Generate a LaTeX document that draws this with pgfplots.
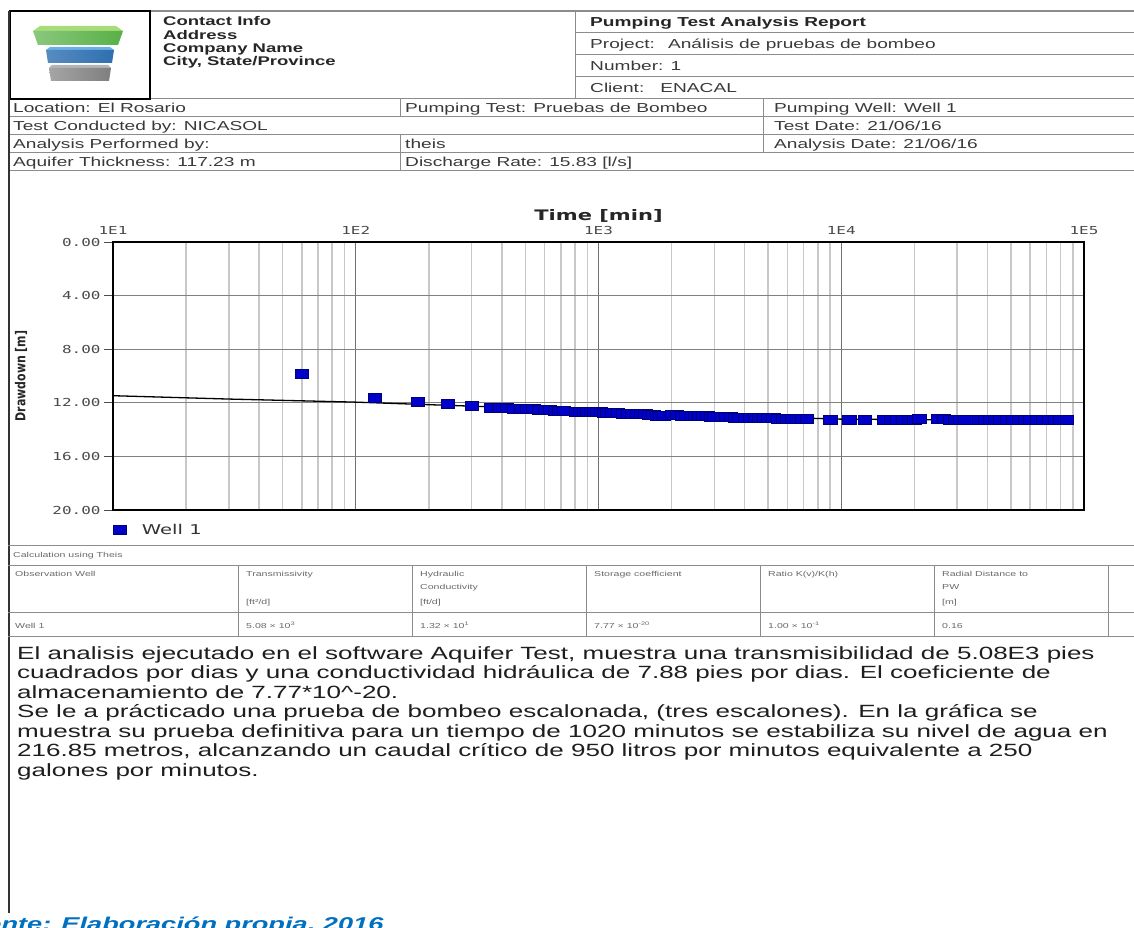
\documentclass[border=0pt]{standalone}
\usepackage{pgfplots}
\usepackage{pgfplotstable}
\pgfplotsset{compat=1.18}
\usepackage{fontspec}
\setmainfont{Liberation Sans}[FakeStretch=1.47]
\newfontfamily\dvmono{DejaVu Sans Mono}[FakeStretch=1.45]
\newfontfamily\dvsans{DejaVu Sans}[FakeStretch=1.45]
\newfontfamily\dvrot{DejaVu Sans}[FakeStretch=0.8]
\newcommand\fs[1]{\fontsize{#1}{#1}\selectfont}
\definecolor{hdrtxt}{HTML}{3A3A3A}
\definecolor{hdrline}{HTML}{8C8C8C}
\definecolor{mblue}{HTML}{0000C8}
\definecolor{mdark}{HTML}{00007A}
\definecolor{capblue}{HTML}{0070C0}
\definecolor{mingrid}{HTML}{C8C8C8}
\definecolor{majgrid}{HTML}{707070}
\definecolor{ygrid}{HTML}{808080}
\definecolor{ticktxt}{HTML}{4A4A4A}
\definecolor{tabtxt}{HTML}{6A6A6A}
\definecolor{ptext}{HTML}{1E1E1E}
\definecolor{gtop}{HTML}{A8DC78}
\definecolor{gfront}{HTML}{58B046}
\definecolor{btop}{HTML}{6BB0E4}
\definecolor{bfront}{HTML}{2E6FB0}
\definecolor{ytop}{HTML}{B4B4B4}
\definecolor{yfront}{HTML}{7F7F7F}

\pgfplotstableread{
t s
60 9.80
120 11.65
180 11.95
240 12.10
300 12.25
360 12.38
390 12.36
420 12.40
450 12.42
480 12.44
510 12.46
540 12.48
570 12.50
600 12.52
630 12.55
660 12.57
690 12.59
720 12.62
810 12.64
840 12.65
870 12.66
900 12.66
930 12.67
960 12.68
990 12.69
1020 12.70
1050 12.71
1080 12.73
1140 12.77
1200 12.78
1260 12.79
1320 12.80
1380 12.82
1440 12.83
1500 12.83
1560 12.84
1620 12.86
1680 12.88
1740 12.94
1800 12.95
1860 12.96
2000 12.92
2100 12.93
2200 12.94
2300 12.95
2400 12.96
2500 12.97
2600 12.98
2700 12.99
2800 13.00
2900 13.02
3000 13.03
3200 13.07
3350 13.08
3500 13.08
3650 13.09
3800 13.10
4000 13.12
4200 13.13
4400 13.13
4600 13.14
4800 13.14
5000 13.15
5250 13.15
5500 13.16
5750 13.16
6000 13.17
6300 13.17
6600 13.18
6900 13.18
7200 13.18
9000 13.28
10800 13.28
12500 13.28
15000 13.28
16000 13.28
17000 13.27
18000 13.27
19000 13.26
20000 13.24
21000 13.22
25000 13.22
26500 13.23
28000 13.24
29500 13.25
31000 13.26
32500 13.27
37000 13.28
39000 13.29
41000 13.29
43000 13.30
45000 13.30
48000 13.29
51000 13.29
54000 13.28
57000 13.28
60000 13.28
64000 13.28
68000 13.28
72000 13.27
76000 13.27
80000 13.27
85000 13.27
}\welldata

\pgfplotstableread{
t s
10 11.47
30 11.72
100 11.95
300 12.25
1000 12.60
3000 12.95
10000 13.22
30000 13.27
90000 13.28
}\theisdata

\begin{document}
\begin{tikzpicture}[x=1pt,y=1pt]
\useasboundingbox (0,0) rectangle (1134,-928);
\clip (0,0) rectangle (1134,-928);
\fill[white] (0,0) rectangle (1134,-928);

% ---------- header lines ----------
\draw[hdrline, line width=1.2pt] (150,-11) -- (1134,-11);
\draw[hdrline, line width=1pt] (575,-11) -- (575,-99);
\foreach \yy in {33,55,77}{\draw[hdrline, line width=1pt] (575,-\yy) -- (1134,-\yy);}
\foreach \yy in {99,117,135,153,171}{\draw[hdrline, line width=1pt] (8,-\yy) -- (1134,-\yy);}
\draw[hdrline, line width=1pt] (400,-99) -- (400,-117);
\draw[hdrline, line width=1pt] (400,-135) -- (400,-171);
\draw[hdrline, line width=1pt] (763,-99) -- (763,-153);

% logo box
\draw[black, line width=2pt] (10,-11) rectangle (150,-99);
\fill[gtop] (40,-26) -- (116,-26) -- (123,-31) -- (33,-31) -- cycle;
\shade[left color=gfront!70!white, right color=gfront] (33,-31) -- (123,-31) -- (118,-45) -- (38,-45) -- cycle;
\fill[btop] (50,-47) -- (110,-47) -- (114,-50) -- (46,-50) -- cycle;
\shade[left color=bfront!80!white, right color=bfront] (46,-50) -- (114,-50) -- (112,-63) -- (48,-63) -- cycle;
\fill[ytop] (52,-65) -- (108,-65) -- (111,-68) -- (49,-68) -- cycle;
\shade[left color=yfront!70!white, right color=yfront] (49,-68) -- (111,-68) -- (109,-81) -- (51,-81) -- cycle;

% left thick border
\draw[black!80, line width=2.5pt] (9,-11) -- (9,-913);

% header texts
\begin{scope}[every node/.style={anchor=base west, inner sep=0pt, text=hdrtxt, font=\fs{13}}]
\node[font=\bfseries\fs{12.6}, text=black!85] at (163,-26) {Contact Info};
\node[font=\bfseries\fs{12.6}, text=black!85] at (163,-39.2) {Address};
\node[font=\bfseries\fs{12.6}, text=black!85] at (163,-52.4) {Company Name};
\node[font=\bfseries\fs{12.6}, text=black!85] at (163,-65.6) {City, State/Province};
\node[font=\bfseries\fs{13}, text=black!85] at (590,-27) {Pumping Test Analysis Report};
\node at (590,-49) {Project:\hspace{6pt} Análisis de pruebas de bombeo};
\node at (590,-71) {Number: 1};
\node at (590,-93) {Client:\hspace{9pt} ENACAL};
\node at (13,-112.6) {Location: El Rosario};
\node at (405,-112.6) {Pumping Test: Pruebas de Bombeo};
\node at (774,-112.6) {Pumping Well: Well 1};
\node at (13,-130.6) {Test Conducted by: NICASOL};
\node at (774,-130.6) {Test Date: 21/06/16};
\node at (13,-148.6) {Analysis Performed by:};
\node at (405,-148.6) {theis};
\node at (774,-148.6) {Analysis Date: 21/06/16};
\node at (13,-166.6) {Aquifer Thickness: 117.23 m};
\node at (405,-166.6) {Discharge Rate: 15.83 [l/s]};
\end{scope}

% ---------- chart ----------
\begin{axis}[
  at={(113pt,-242pt)}, anchor=north west,
  width=971pt, height=268pt, scale only axis,
  xmode=log, xmin=10, xmax=100000,
  ymin=0, ymax=20, y dir=reverse,
  axis line style={line width=1.3pt, black},
  xtick={10,100,1000,10000,100000},
  xticklabels={1E1,1E2,1E3,1E4,1E5},
  minor xtick={20,30,40,50,60,70,80,90,200,300,400,500,600,700,800,900,2000,3000,4000,5000,6000,7000,8000,9000,20000,30000,40000,50000,60000,70000,80000,90000},
  xticklabel pos=upper,
  ytick={0,4,8,12,16,20},
  yticklabels={0.00,4.00,8.00,12.00,16.00,20.00},
  ytick pos=left, ytick align=outside, xtick align=inside,
  major tick length=9pt, minor tick length=0pt,
  xtick style={majgrid, line width=1.3pt},
  ytick style={black!70, line width=1pt},
  xmajorgrids, xminorgrids, ymajorgrids,
  major x grid style={majgrid, line width=1.3pt},
  minor x grid style={mingrid, line width=1.6pt},
  major y grid style={ygrid, line width=1pt},
  ticklabel style={font=\dvmono\fs{11}, text=ticktxt},
  xticklabel style={yshift=4pt},
  title={Time [min]},
  title style={at={(axis description cs:0.5,1)}, anchor=base, yshift=16pt, inner sep=0pt, font=\dvsans\bfseries\fs{14.5}, text=black!85},
  ylabel={Drawdown [m]},
  every axis y label/.style={at={(axis description cs:-0.0947,0.5)}, rotate=90, anchor=center, font=\dvrot\bfseries\fs{13.7}, text=black!85},
  legend style={at={(axis description cs:0,0)}, anchor=north west, draw=none, fill=none, font=\dvsans\fs{13.5}, text=black!80, xshift=-3pt, yshift=-10pt},
  legend cell align=left,
  legend image code/.code={\draw[#1] plot coordinates {(6pt,0pt)}; \path[draw=none] (0pt,0pt) -- (26pt,0pt);},
]
\addplot[black, line width=1.3pt, forget plot] table[x=t,y=s] {\theisdata};
\addplot[only marks, mark=square*, mark size=4.5pt, mark options={xscale=1.5, fill=mblue, draw=mdark, line width=0.6pt}] table[x=t,y=s] {\welldata};
\addlegendentry{Well 1}
\end{axis}

% ---------- results table ----------
\draw[hdrline, line width=1pt] (8,-545) -- (1134,-545);
\draw[hdrline, line width=1pt] (8,-565) -- (1134,-565);
\draw[hdrline, line width=1pt] (8,-612) -- (1134,-612);
\draw[hdrline, line width=1pt] (8,-636) -- (1134,-636);
\foreach \xx in {238,412,586,760,934,1108}{\draw[hdrline, line width=1pt] (\xx,-565) -- (\xx,-636);}
\begin{scope}[every node/.style={anchor=base west, inner sep=0pt, text=tabtxt, font=\fs{7.2}}]
\node at (13,-557.7) {Calculation using Theis};
\node at (15,-576.7) {Observation Well};
\node at (246,-576.7) {Transmissivity};
\node at (246,-604.7) {[ft²/d]};
\node at (420,-576.7) {Hydraulic};
\node at (420,-589.7) {Conductivity};
\node at (420,-604.7) {[ft/d]};
\node at (594,-576.7) {Storage coefficient};
\node at (768,-576.7) {Ratio K(v)/K(h)};
\node at (942,-576.7) {Radial Distance to};
\node at (942,-589.7) {PW};
\node at (942,-604.7) {[m]};
\node at (15,-628.7) {Well 1};
\node at (246,-628.7) {5.08 × 10\textsuperscript{3}};
\node at (420,-628.7) {1.32 × 10\textsuperscript{1}};
\node at (594,-628.7) {7.77 × 10\textsuperscript{-20}};
\node at (768,-628.7) {1.00 × 10\textsuperscript{-1}};
\node at (942,-628.7) {0.16};
\end{scope}

% ---------- paragraph ----------
\begin{scope}[every node/.style={anchor=base west, inner sep=0pt, text=ptext, font=\fs{17.7}}]
\node at (17,-659) {El analisis ejecutado en el software Aquifer Test, muestra una transmisibilidad de 5.08E3 pies};
\node at (17,-678.5) {cuadrados por dias y una conductividad hidráulica de 7.88 pies por dias. El coeficiente de};
\node at (17,-698) {almacenamiento de 7.77*10\textasciicircum-20.};
\node at (17,-717.5) {Se le a prácticado una prueba de bombeo escalonada, (tres escalones). En la gráfica se};
\node at (17,-737) {muestra su prueba definitiva para un tiempo de 1020 minutos se estabiliza su nivel de agua en};
\node at (17,-756.5) {216.85 metros, alcanzando un caudal crítico de 950 litros por minutos equivalente a 250};
\node at (17,-776) {galones por minutos.};
\end{scope}

% caption (cut by the page edge, as in the reference)
\node[anchor=base west, inner sep=0pt, text=capblue, font=\bfseries\itshape\fs{18.5}] at (-47,-930) {Fuente: Elaboración propia, 2016};
\end{tikzpicture}
\end{document}
